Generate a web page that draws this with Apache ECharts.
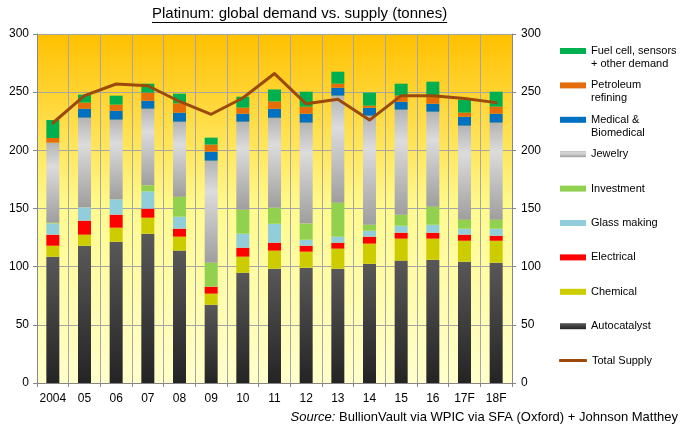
<!DOCTYPE html>
<html lang="en">
<head>
<meta charset="UTF-8">
<title>platinum demand vs supply</title>
<script src="https://cdn.jsdelivr.net/npm/echarts@6/dist/echarts.min.js"></script>
<style>
    html, body { margin: 0; padding: 0; background: #fff; }
    #chart { width: 692px; height: 432px; }
</style>
</head>
<body>
<div id="chart"></div>
<script>
// data (tonnes)
var years = ['2004', '05', '06', '07', '08', '09', '10', '11', '12', '13', '14', '15', '16', '17F', '18F'];
var autocatalyst = [108.6, 118, 121.5, 128.4, 113.8, 67.3, 94.8, 98.3, 99.1, 98.3, 102.6, 105.2, 106, 104.3, 103.4];
var chemical = [9.4, 9.5, 12, 13.7, 12, 9.5, 13.8, 15.5, 13.8, 17.2, 17.2, 18.9, 18.1, 18, 18.9];
var electrical = [9.5, 12, 11.2, 7.8, 6.9, 6, 7.7, 6.8, 5.1, 5.1, 6, 5.1, 5.1, 5.2, 4.3];
var glassMaking = [9.7, 11.5, 13.2, 14.9, 10.3, 0, 12.1, 16.3, 5.2, 5.2, 5.1, 6, 6.9, 5.2, 6.1];
var investment = [0.6, 0, 0, 5.1, 17.2, 20.6, 20.6, 13.7, 13.8, 29.2, 5.2, 9.5, 15.5, 7.7, 7.7];
var jewelry = [68.8, 77.1, 68.5, 65.9, 64.4, 87.7, 75.6, 77.4, 86.8, 92, 93.7, 90.3, 81.6, 80.8, 83.4];
var medical = [0, 7.7, 7.7, 6.9, 7.8, 7.8, 6.9, 7.7, 7.7, 6.9, 6.9, 6.8, 6.9, 7.7, 7.7];
var petroleum = [4, 5.2, 5.2, 6.9, 8, 6, 5.2, 6.3, 6, 3.4, 1.7, 5.2, 5.7, 3.5, 6];
var fuelCell = [15.5, 6.9, 7.7, 7.7, 8.3, 6, 9.4, 10.3, 12.9, 10.3, 11.2, 10.3, 13.2, 11.2, 12.9];
var totalSupply = [223.5, 247, 257, 255.5, 242, 231, 245, 266, 240, 244, 226, 247, 247, 244.5, 241];
var yTicks = [0, 50, 100, 150, 200, 250, 300];

var titleText = 'Platinum: global demand vs. supply (tonnes)';
var FONT = '"Liberation Sans", Arial, sans-serif';

function vgrad(stops) {
    return new echarts.graphic.LinearGradient(0, 0, 0, 1, stops);
}

// stacked demand, bottom to top
var demand = [
    {name: 'Autocatalyst', data: autocatalyst, color: vgrad([{offset: 0, color: '#585858'}, {offset: 1, color: '#242424'}])},
    {name: 'Chemical', data: chemical, color: '#CCCC00'},
    {name: 'Electrical', data: electrical, color: '#FF0000'},
    {name: 'Glass making', data: glassMaking, color: '#92CDDC'},
    {name: 'Investment', data: investment, color: '#92D050'},
    {name: 'Jewelry', data: jewelry, color: vgrad([{offset: 0, color: '#B4B4B4'}, {offset: 0.3, color: '#DCDCDC'}, {offset: 1, color: '#9E9E9E'}])},
    {name: 'Medical & Biomedical', data: medical, color: '#0070C0'},
    {name: 'Petroleum refining', data: petroleum, color: '#E46C0A'},
    {name: 'Fuel cell, sensors + other demand', data: fuelCell, color: '#00B050'}
];

var series = demand.map(function (d) {
    return {
        name: d.name,
        type: 'bar',
        stack: 'demand',
        barWidth: 13,
        data: d.data,
        itemStyle: {color: d.color}
    };
});
series.push({
    name: 'Total Supply',
    type: 'line',
    data: totalSupply,
    symbol: 'none',
    z: 5,
    lineStyle: {width: 3, color: '#9C4A0C', cap: 'round', join: 'round'},
    itemStyle: {color: '#9C4A0C'}
});

// legend: one component per entry so the icons sit on the first text line
var legendOrder = [
    ['Fuel cell, sensors + other demand', 'Fuel cell, sensors\n+ other demand'],
    ['Petroleum refining', 'Petroleum\nrefining'],
    ['Medical & Biomedical', 'Medical &\nBiomedical'],
    ['Jewelry', 'Jewelry'],
    ['Investment', 'Investment'],
    ['Glass making', 'Glass making'],
    ['Electrical', 'Electrical'],
    ['Chemical', 'Chemical'],
    ['Autocatalyst', 'Autocatalyst'],
    ['Total Supply', 'Total Supply']
];
var legends = legendOrder.map(function (item, i) {
    var cy = 51 + i * 34.4;
    var twoLines = item[1].indexOf('\n') >= 0;
    var isLine = item[0] === 'Total Supply';
    return {
        orient: 'vertical',
        left: isLine ? 559 : 560,
        top: twoLines ? cy - 19.5 : cy - 6.5,
        padding: 0,
        icon: isLine ? 'roundRect' : 'rect',
        itemWidth: isLine ? 28 : 26,
        itemHeight: isLine ? 3 : 6,
        selectedMode: false,
        data: [item[0]],
        formatter: function () { return twoLines ? ' \n' + item[1] : item[1]; },
        textStyle: {fontFamily: FONT, fontSize: 11, color: '#000', lineHeight: 13}
    };
});

// title width for the underline
var ctx = document.createElement('canvas').getContext('2d');
ctx.font = '15px ' + FONT;
var titleW = ctx.measureText(titleText).width;
var titleX = 152;

var axisGray = '#868686';
var gridGray = '#A6A6A6';

function yAxisDef(pos) {
    return {
        type: 'value',
        position: pos,
        min: yTicks[0],
        max: yTicks[yTicks.length - 1],
        interval: 50,
        axisLine: {show: true, lineStyle: {color: axisGray}},
        axisTick: {show: true, length: 4, lineStyle: {color: axisGray}},
        axisLabel: {color: '#000', fontSize: 12, fontFamily: FONT, margin: pos === 'left' ? 8 : 9},
        splitLine: {show: pos === 'left', lineStyle: {color: gridGray}}
    };
}

var chart = echarts.init(document.getElementById('chart'));
chart.setOption({
    animation: false,
    backgroundColor: '#fff',
    grid: {
        left: 37, right: 180, top: 34, bottom: 49,
        show: true,
        borderWidth: 0,
        backgroundColor: vgrad([
            {offset: 0, color: '#FFC000'},
            {offset: 0.5, color: '#FFFA8F'},
            {offset: 1, color: '#FFFFCC'}
        ])
    },
    legend: legends,
    xAxis: {
        type: 'category',
        data: years,
        boundaryGap: true,
        axisLine: {lineStyle: {color: axisGray}},
        axisTick: {show: true, interval: 0, length: 4, lineStyle: {color: axisGray}},
        axisLabel: {interval: 0, color: '#000', fontSize: 12, fontFamily: FONT, margin: 10},
        splitLine: {show: true, interval: 0, lineStyle: {color: gridGray}}
    },
    yAxis: [yAxisDef('left'), yAxisDef('right')],
    series: series,
    graphic: [
        {
            type: 'text', left: titleX, top: 6,
            style: {text: titleText, font: '15px ' + FONT, fill: '#000'}
        },
        {
            type: 'line',
            shape: {x1: titleX, y1: 22.5, x2: titleX + titleW, y2: 22.5},
            style: {stroke: '#000', lineWidth: 1}
        },
        {
            type: 'text', right: 14, top: 411,
            style: {
                text: '{i|Source:} BullionVault via WPIC via SFA (Oxford) + Johnson Matthey',
                font: '13px ' + FONT,
                fill: '#000',
                rich: {i: {fontStyle: 'italic', fontSize: 13, fontFamily: FONT}}
            }
        }
    ]
});
</script>
</body>
</html>
